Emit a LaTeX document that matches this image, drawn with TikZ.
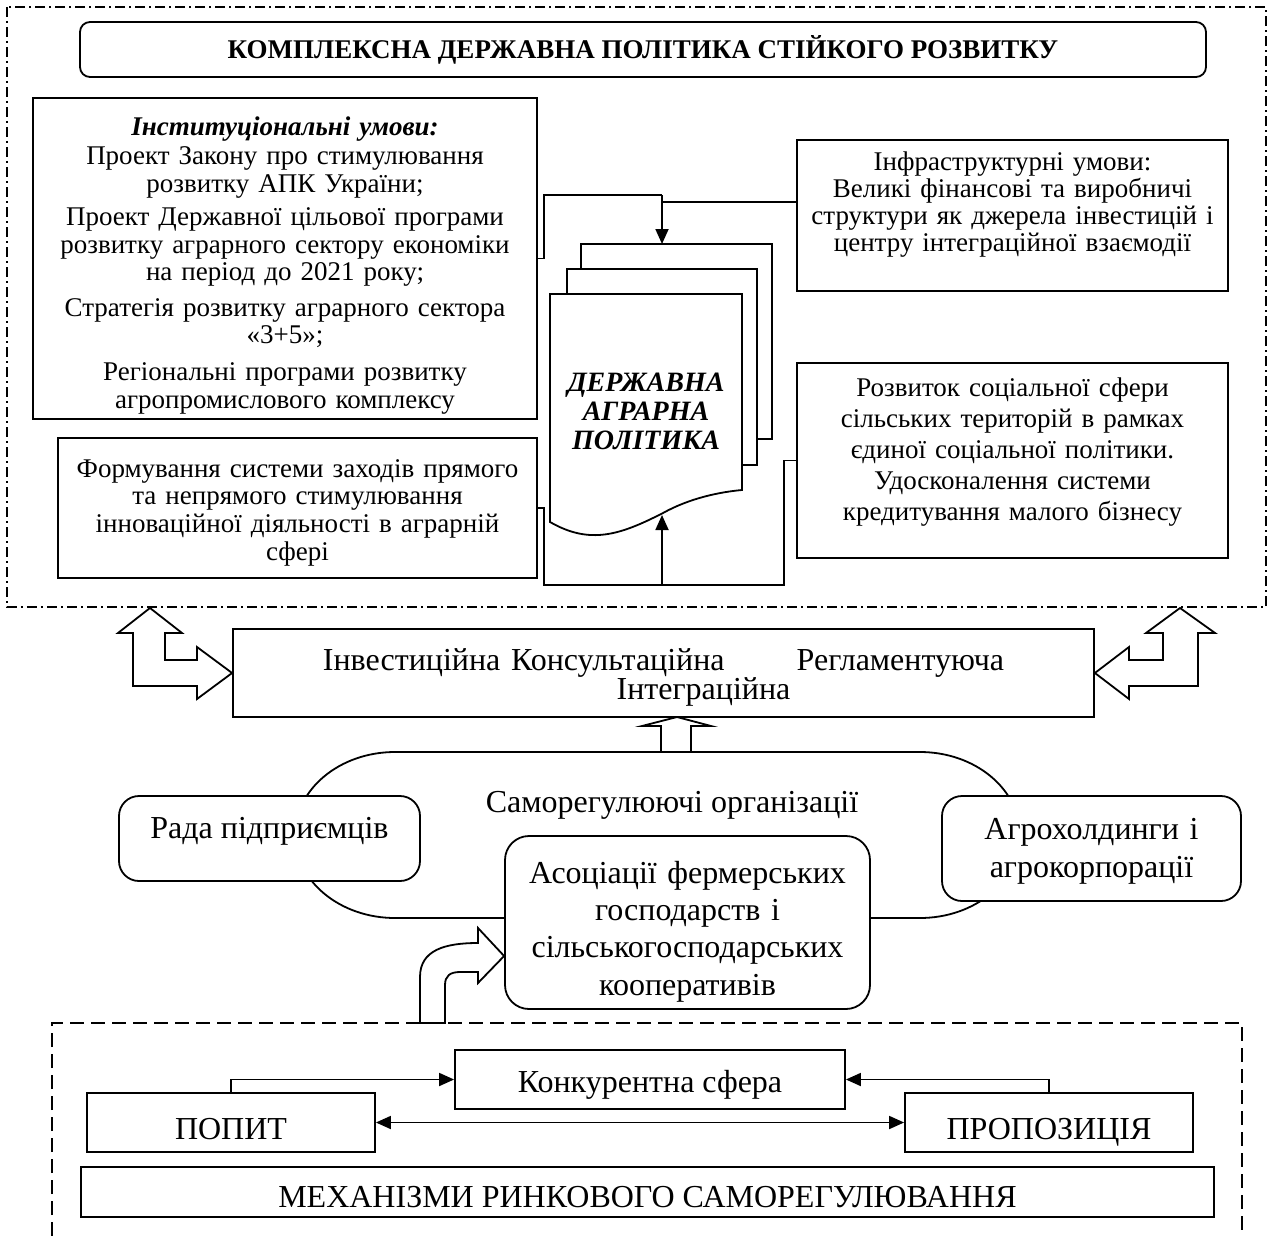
\documentclass[tikz,border=0pt]{standalone}
\usepackage{fontspec}
\setmainfont{Liberation Serif}
\usetikzlibrary{arrows.meta}

\begin{document}
\begin{tikzpicture}[x=0.5pt,y=-0.5pt,line width=0.9pt,
    box/.style={draw,align=center,inner sep=2pt,font=\fontsize{13.5}{13.75}\selectfont},
    rbox/.style={box,rounded corners=10pt,fill=white,font=\fontsize{16}{19}\selectfont},
    bbox/.style={box,font=\fontsize{16}{17}\selectfont},
    arr/.style={-{Triangle[length=7.5pt,width=6.5pt]}},
    blockarr/.style={draw,fill=white,line join=miter}]
    \useasboundingbox (0,0) rectangle (1269,1236);
    % Upper frame
    \draw[dash pattern=on 5pt off 2pt on 1pt off 2pt] (7,7) rectangle (1266,607);
    \node[box, rounded corners=5pt, minimum width=563pt, minimum height=27.5pt,
        font=\fontsize{13.5}{14}\bfseries] (title) at (643,49.5)
        {КОМПЛЕКСНА ДЕРЖАВНА ПОЛІТИКА СТІЙКОГО РОЗВИТКУ};
    % Conditions
    \node[box, text width=248pt, text height=16.5pt, text depth=140pt] (inst) at (285,258.5)
        {\textbf{\textit{Інституціональні умови:}}\\[1pt]
        Проект Закону про стимулювання\\ розвитку АПК України;\\[3pt]
        Проект Державної цільової програми\\ розвитку аграрного сектору економіки\\ на період до 2021 року;\\[4pt]
        Стратегія розвитку аграрного сектора\\ «3+5»;\\[5pt]
        Регіональні програми розвитку\\ агропромислового комплексу};
    \node[box, font=\fontsize{13.5}{13.5}\selectfont, text width=211.5pt, text height=13pt, text depth=58.5pt] (infra) at (1012.5,215.5)
        {Інфраструктурні умови:\\ Великі фінансові та виробничі\\
        структури як джерела інвестицій і\\ центру інтеграційної взаємодії};
    \node[box, font=\fontsize{13.5}{13.85}\selectfont, text width=235.5pt, text height=17.5pt, text depth=48.5pt] (form) at (297.5,508)
        {Формування системи заходів прямого\\ та непрямого стимулювання\\
        інноваційної діяльності в аграрній\\ сфері};
    \node[box, font=\fontsize{13.5}{15.6}\selectfont, text width=211.5pt, text height=14.5pt, text depth=79pt] (rozv) at (1012.5,460.5)
        {Розвиток соціальної сфери\\ сільських територій в рамках\\
        єдиної соціальної політики.\\ Удосконалення системи\\ кредитування малого бізнесу};
    % Documents
    \draw (581,269) -- (581,244) -- (772,244) -- (772,439) -- (757,439);
    \draw (567,294) -- (567,269) -- (757,269) -- (757,465) -- (742,465);
    \draw (550,294) -- (742,294) -- (742,490)
        .. controls (720,492) and (690,498) .. (663,513)
        .. controls (620,535) and (590,545) .. (550,522) -- cycle;
    \node[font=\fontsize{14}{14.5}\bfseries\itshape, align=center] (policy) at (646,411)
        {ДЕРЖАВНА\\ АГРАРНА\\ ПОЛІТИКА};
    \coordinate (jtop) at (662,195);
    \coordinate (doctop) at (662,244);
    \coordinate (jbot) at (662,585);
    \coordinate (docbot) at (662,515);
    \draw (inst.east) -- ++(6,0) |- (jtop);
    \draw ([yshift=6.75pt]infra.west) -| (jtop);
    \draw[arr] (jtop) -- (doctop);
    \draw (form.east) -- ++(6,0) |- (jbot);
    \draw (rozv.west) -- ++(-12,0) |- (jbot);
    \draw[arr] (jbot) -- (docbot);
    % Functions
    \node[box, font=\fontsize{16}{14.5}\selectfont, text width=426.5pt, text height=18.5pt, text depth=21.5pt] (mid) at (663.5,673)
        {Інвестиційна Консультаційна\hspace{36pt}Регламентуюча\\ \hspace*{40pt}Інтеграційна};
    \draw[blockarr] (150,608) -- (182,633) -- (165,633) -- (165,660) -- (197,660) -- (197,647)
        -- (mid.west) -- (197,699) -- (197,686) -- (133,686) -- (133,633) -- (118,633) -- cycle;
    \draw[blockarr] (1180,608) -- (1215,633) -- (1198,633) -- (1198,686) -- (1129,686) -- (1129,699)
        -- (mid.east) -- (1129,647) -- (1129,660) -- (1163,660) -- (1163,633) -- (1146,633) -- cycle;
    \draw[blockarr] (677,717) -- (711,726) -- (691,726) -- (691,752) -- (661,752) -- (661,726) -- (642,726) -- cycle;
    % Self-regulating organisations
    \draw (395,752) -- (920,752) arc[start angle=90, end angle=-90, x radius=50pt, y radius=41.5pt]
        -- (395,918) arc[start angle=270, end angle=90, x radius=50pt, y radius=41.5pt] -- cycle;
    \node[font=\fontsize{16}{16}\selectfont] (selfreg) at (672,805) {Саморегулюючі організації};
    \node[rbox, minimum width=150.5pt, text height=19pt, text depth=19.5pt] (rada) at (269.5,838.5)
        {Рада підприємців};
    \node[rbox, text width=145.5pt, text height=19.5pt, text depth=29pt] (agro) at (1091.5,848.5)
        {Агрохолдинги і\\ агрокорпорації};
    \node[rbox, rounded corners=12pt, font=\fontsize{16}{18.7}\selectfont, text width=178.5pt, text height=21.5pt, text depth=61pt] (assoc) at (687.5,922.5)
        {Асоціації фермерських\\ господарств і\\ сільськогосподарських\\ кооперативів};
    \draw[blockarr] (420,1023) -- (420,977) .. controls (420,950) and (445,943) .. (478,943)
        -- (478,928) -- (assoc.west |- 0,956) -- (478,983) -- (478,972) -- (460,972)
        .. controls (450,972) and (445,976) .. (445,985) -- (445,1023) -- cycle;
    % Market mechanisms
    \draw[dash pattern=on 7pt off 3.5pt] (52,1236) -- (52,1023) -- (1242,1023) -- (1242,1236);
    \node[bbox, minimum width=195pt, text height=19pt, text depth=6.5pt] (konk) at (650,1079.5) {Конкурентна сфера};
    \node[bbox, minimum width=144pt, text height=21.25pt, text depth=4.25pt] (popyt) at (231,1122.5) {ПОПИТ};
    \node[bbox, minimum width=144pt, text height=21.25pt, text depth=4.25pt] (propoz) at (1049,1122.5) {ПРОПОЗИЦІЯ};
    \node[bbox, minimum width=566.5pt, text height=18.25pt, text depth=2.75pt] (mech) at (647.5,1192) {МЕХАНІЗМИ РИНКОВОГО САМОРЕГУЛЮВАННЯ};
    \draw[arr] (popyt.north) |- (konk.west);
    \draw[arr] (propoz.north) |- (konk.east);
    \draw[{Triangle[length=7.5pt,width=6.5pt]}-{Triangle[length=7.5pt,width=6.5pt]}] (popyt.east) -- (propoz.west);
\end{tikzpicture}
\end{document}
